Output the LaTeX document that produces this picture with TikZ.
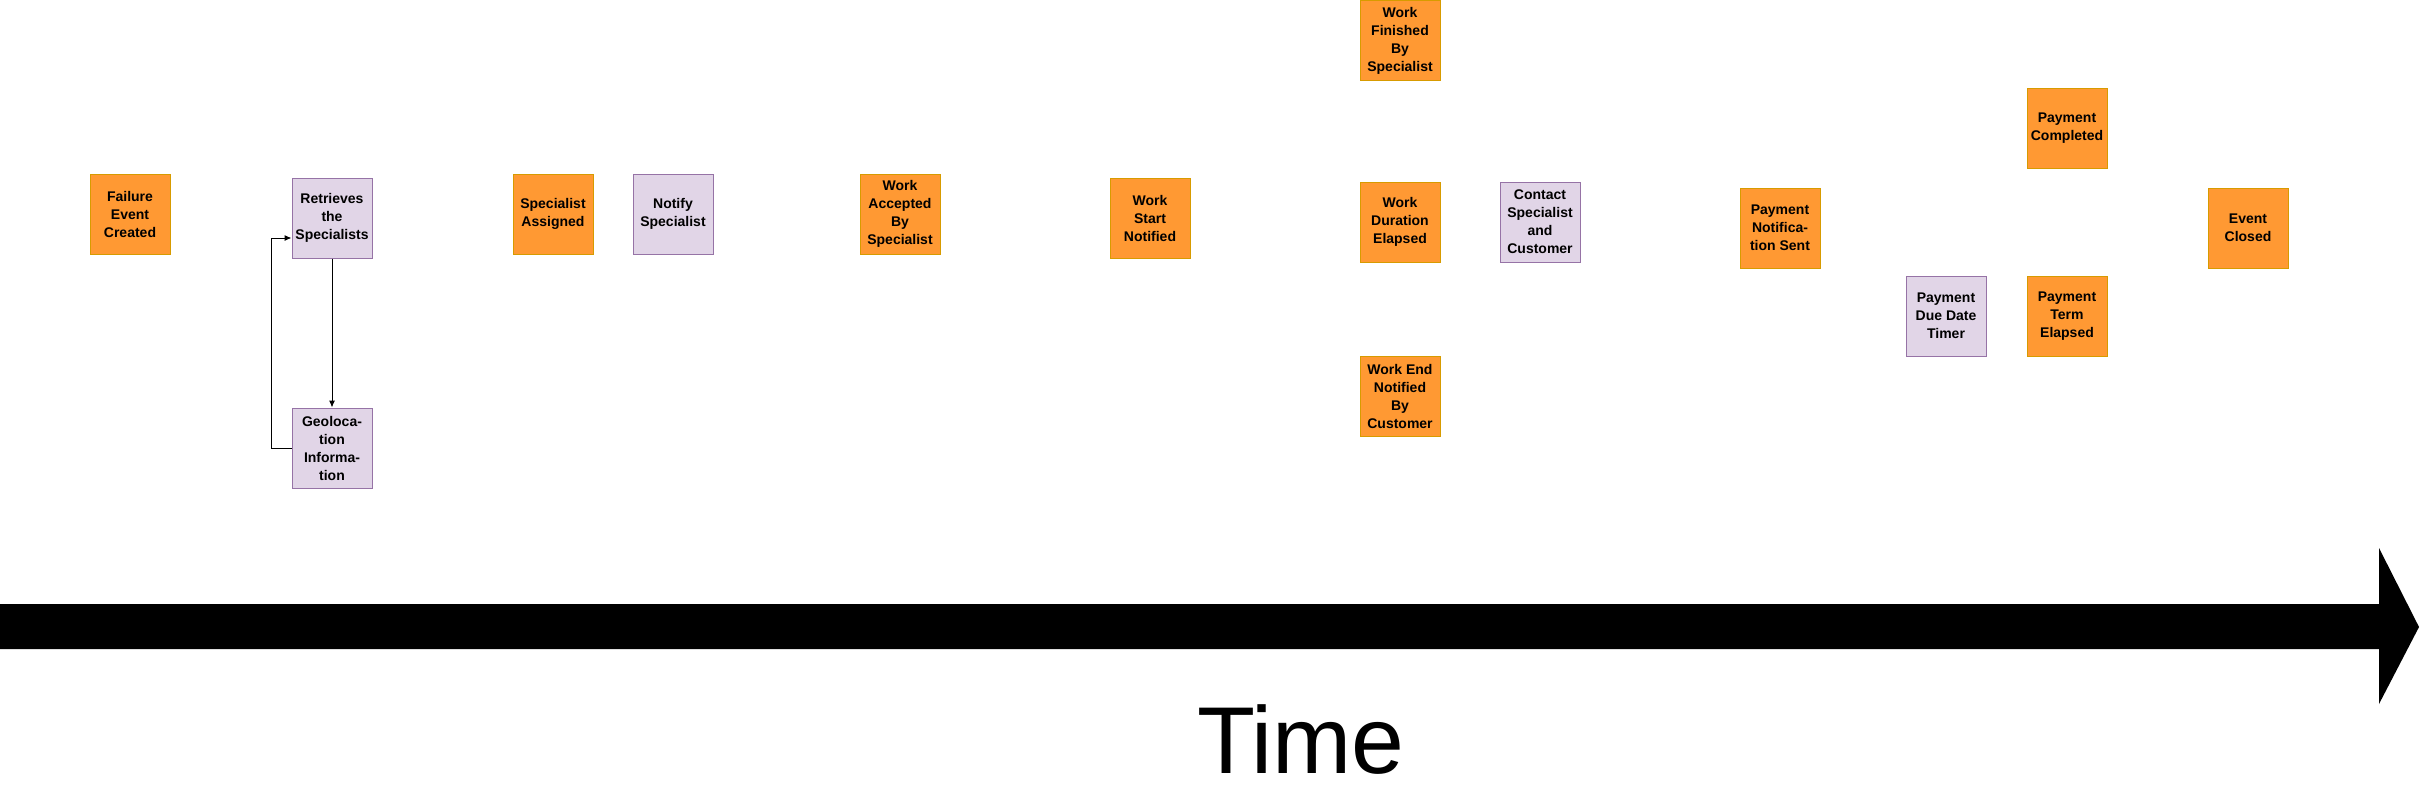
\documentclass[tikz,border=0pt]{standalone}
\usepackage{fontspec}
\setmainfont{Liberation Sans}
\usetikzlibrary{arrows.meta}
\definecolor{evfill}{HTML}{FF9933}
\definecolor{evdraw}{HTML}{D79B00}
\definecolor{acfill}{HTML}{E1D5E7}
\definecolor{acdraw}{HTML}{9673A6}
\tikzset{
  box/.style={rectangle, minimum width=80pt, minimum height=80pt, inner sep=0pt, align=center, line width=1pt,
    font=\fontsize{14}{18}\selectfont\bfseries},
  ev/.style={box, fill=evfill, draw=evdraw},
  act/.style={box, fill=acfill, draw=acdraw},
  conn/.style={draw=black, line width=1pt, -{Latex[length=7pt,width=6pt]}}
}
\begin{document}
\begin{tikzpicture}[x=1pt,y=-1pt]
\useasboundingbox (0,0) rectangle (2421,798);
\node[ev] (fail) at (130,214) {Failure\\Event\\Created};
\node[act] (retr) at (332,218) {Retrieves\\the\\Specialists};
\node[act] (geo) at (332,448) {Geoloca-\\tion\\Informa-\\tion};
\node[ev] (assig) at (553,214) {Specialist\\Assigned};
\node[act] (notify) at (673,214) {Notify\\Specialist};
\node[ev] (accepted) at (900,214) {Work\\Accepted\\By\\Specialist};
\node[ev] (start) at (1150,218) {Work\\Start\\Notified};
\node[ev] (finished) at (1400,40.5) {Work\\Finished\\By\\Specialist};
\node[ev] (duration) at (1400,222) {Work\\Duration\\Elapsed};
\node[act] (contact) at (1540,222) {Contact\\Specialist\\and\\Customer};
\node[ev] (endnot) at (1400,396) {Work End\\Notified\\By\\Customer};
\node[ev] (paynot) at (1780,228) {Payment\\Notifica-\\tion Sent};
\node[ev] (paycomp) at (2067,128) {Payment\\Completed};
\node[act] (timer) at (1946,316) {Payment\\Due Date\\Timer};
\node[ev] (term) at (2067,316) {Payment\\Term\\Elapsed};
\node[ev] (closed) at (2248,228) {Event\\Closed};
\draw[conn] (retr.south) -- (geo.north);
\coordinate (loop) at (271,448);
\draw[conn] (geo.west) -- (loop) |- ([yshift=-20pt]retr.west);
\fill[black] (0,604) -- (2379,604) -- (2379,548) -- (2419,627) -- (2379,704) -- (2379,649) -- (0,649) -- cycle;
\node[font=\fontsize{95}{100}\selectfont, anchor=base, inner sep=0pt] (time) at (1301,773) {Time};
\end{tikzpicture}
\end{document}
